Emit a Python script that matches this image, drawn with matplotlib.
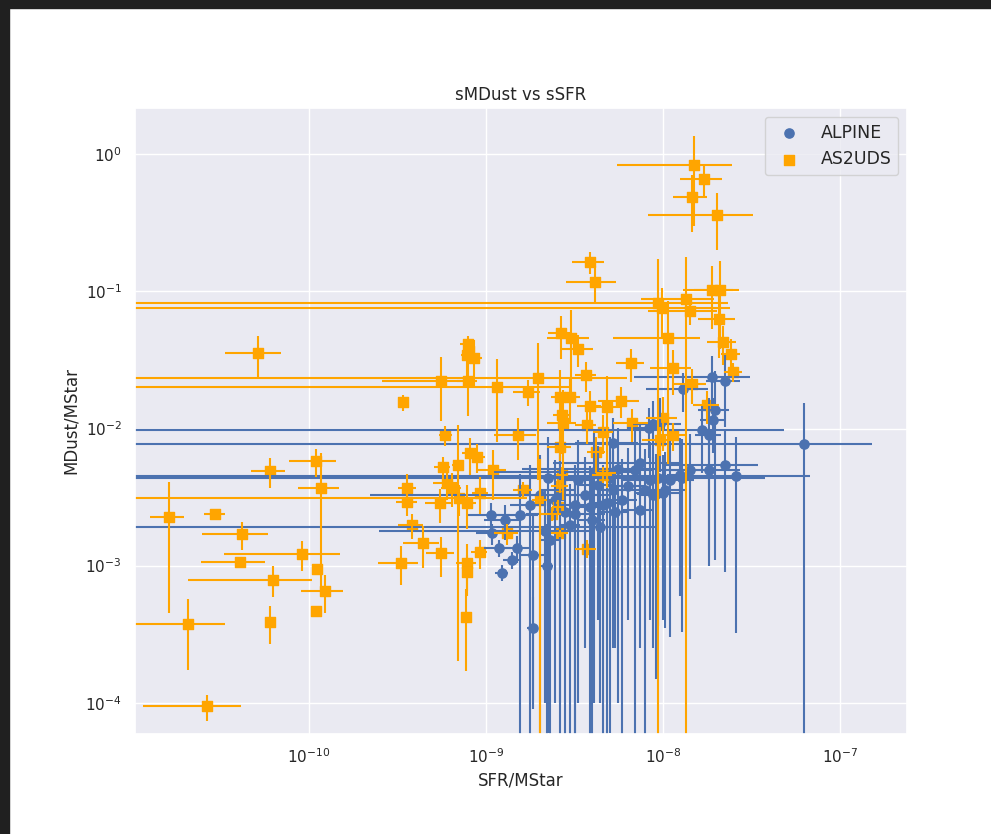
import matplotlib
matplotlib.use("Agg")
import matplotlib.pyplot as plt
from matplotlib.patches import Rectangle
import seaborn as sns

sns.set_theme(style="darkgrid")
plt.rcParams['font.family'] = ['DejaVu Sans']

# ---------------- ALPINE ----------------
alpine_ssfr = [1.23e-9, 1.40e-9, 1.18e-9, 1.08e-9, 1.84e-9, 1.84e-9, 2.20e-9, 2.30e-9, 1.50e-9, 3.0e-9,
               3.87e-9, 5.2e-9, 8.8e-9, 1.25e-8, 6.27e-8, 2.58e-8, 1.82e-8, 1.28e-8, 9.1e-9, 1.3e-8,
               1.89e-8, 2.24e-8, 1.97e-8, 1.93e-8, 1.66e-8, 1.82e-8, 8.3e-9, 4.4e-9, 2.62e-9, 2.15e-9,
               2.24e-9, 2.45e-9, 2.62e-9, 2.8e-9, 3.18e-9, 3.31e-9, 3.63e-9, 3.98e-9, 4.3e-9, 4.58e-9,
               5.0e-9, 5.35e-9, 5.87e-9, 6.34e-9, 6.95e-9, 7.4e-9, 7.9e-9, 8.45e-9, 9.4e-9, 1.03e-8,
               1.1e-8, 1.42e-8, 2.24e-8, 1.07e-9, 1.28e-9, 1.56e-9, 1.77e-9, 2.02e-9, 8.8e-9, 9.6e-9,
               5.2e-9, 4.8e-9, 1.0e-8, 5.6e-9, 4.1e-9, 7.4e-9, 3.18e-9]
alpine_ssfr_err = [1.1e-10, 1.5e-10, 2.0e-10, 2.0e-10, 1.4e-10, 3.0e-10, 2.0e-10, 3.0e-10, 3.0e-10, 4e-10,
                   6e-10, 8e-10, 1.5e-9, 2e-9, 8.9e-8, 4.2e-8, 9e-9, 2.5e-8, 2e-9, 5e-9,
                   1.2e-8, 5e-9, 4e-9, 3e-9, 3.2e-8, 3e-9, 2e-9, 5e-9, 2.4e-9, 1.9e-9,
                   5e-10, 4e-10, 6e-10, 5e-10, 7e-10, 6e-10, 8e-10, 7e-10, 1e-9, 8e-10,
                   1.2e-9, 1e-9, 1.3e-9, 1.5e-9, 2e-9, 1.5e-9, 2e-9, 2.5e-9, 3e-9, 3e-9,
                   4e-9, 5e-9, 1.2e-8, 3e-10, 3e-10, 4e-10, 4e-10, 5e-10, 2e-9, 3e-9,
                   2e-9, 1e-9, 3e-9, 4e-9, 3e-9, 5e-9, 1.5e-9]
alpine_smdust = [8.9e-4, 1.1e-3, 1.35e-3, 1.72e-3, 3.5e-4, 1.19e-3, 1.0e-3, 1.53e-3, 1.35e-3, 1.97e-3,
                 2.66e-3, 3.55e-3, 3.25e-3, 4.6e-3, 7.7e-3, 4.47e-3, 5.0e-3, 4.33e-3, 3.35e-3, 0.0193,
                 0.0236, 0.0222, 0.0136, 0.0116, 9.7e-3, 9.0e-3, 0.0101, 1.9e-3, 3.3e-3, 1.8e-3,
                 4.36e-3, 3.0e-3, 3.55e-3, 2.45e-3, 2.75e-3, 4.2e-3, 3.25e-3, 2.15e-3, 3.9e-3, 2.75e-3,
                 4.36e-3, 2.45e-3, 3.0e-3, 3.8e-3, 5.0e-3, 2.55e-3, 3.55e-3, 4.2e-3, 4.36e-3, 3.55e-3,
                 4.2e-3, 5.0e-3, 5.4e-3, 2.34e-3, 2.15e-3, 2.34e-3, 2.75e-3, 3.25e-3, 0.0108, 0.0108,
                 7.9e-3, 2.85e-3, 3.4e-3, 5.1e-3, 4.8e-3, 5.6e-3, 2.4e-3]
alpine_smdust_err = [1.2e-4, 1.5e-4, 2.0e-4, 3.0e-4, 2.45e-4, 1.1e-3, 1.0e-3, 1.53e-3, 3.0e-4, 1.97e-3,
                     2.66e-3, 3.3e-3, 3.0e-3, 4.0e-3, 7.7e-3, 4.15e-3, 4.0e-3, 4.0e-3, 3.2e-3, 6e-3,
                     0.01, 0.012, 0.0125, 5e-3, 5e-3, 7.7e-3, 4e-3, 1.8e-3, 3.2e-3, 1.7e-3,
                     4.3e-3, 2.9e-3, 3.5e-3, 2.4e-3, 2.7e-3, 4.1e-3, 3.0e-3, 2.1e-3, 3.5e-3, 2.7e-3,
                     4.3e-3, 2.2e-3, 2.95e-3, 3.4e-3, 4.95e-3, 2.3e-3, 3.5e-3, 3.8e-3, 4.0e-3, 3.2e-3,
                     3.9e-3, 4.2e-3, 4.5e-3, 5e-4, 6e-4, 2.3e-3, 2.7e-3, 3.2e-3, 5e-3, 6e-3,
                     4e-3, 2.8e-3, 3.0e-3, 5.0e-3, 4.7e-3, 5.0e-3, 2.35e-3]

# ---------------- AS2UDS ----------------
as2uds_ssfr = [1.5e-8, 1.7e-8, 1.46e-8, 2.02e-8, 3.87e-9, 4.13e-9, 1.89e-8, 2.1e-8, 1.35e-8, 9.4e-9,
               9.9e-9, 1.42e-8, 2.07e-8, 2.18e-8, 2.42e-8, 1.07e-8, 6.6e-9, 1.14e-8, 2.65e-9, 3.02e-9,
               3.31e-9, 3.67e-9, 1.97e-9, 1.15e-9, 1.73e-9, 5.6e-10, 7.9e-10, 3.4e-10, 7.9e-10, 7.8e-10,
               8.55e-10, 8.0e-10, 2.62e-9, 3.0e-9, 3.87e-9, 5.8e-9, 4.83e-9, 2.69e-9, 2.72e-9, 3.7e-9,
               6.7e-9, 1.14e-8, 5.9e-10, 1.51e-9, 2.02e-9, 2.62e-9, 8.1e-10, 8.9e-10, 5.7e-10, 3.6e-10,
               3.6e-10, 1.1e-9, 6.0e-10, 6.4e-10, 9.3e-10, 7.8e-10, 5.5e-10, 3.8e-10, 4.4e-10, 5.6e-10,
               3.3e-10, 7.8e-10, 7.8e-10, 9.2e-10, 7.7e-10, 2.62e-9, 3.7e-9, 1.62e-9, 2.69e-9, 2.62e-9,
               2.55e-9, 2.35e-9, 1.31e-9, 4.58e-9, 6.95e-10, 7.0e-10, 5.15e-11, 1.62e-11, 2.94e-11, 4.18e-11,
               4.07e-11, 9.1e-11, 1.17e-10, 1.1e-10, 6.0e-11, 1.23e-10, 1.1e-10, 6.26e-11, 6.0e-11, 2.07e-11,
               2.65e-11, 1.11e-10, 1.46e-8, 1.77e-8, 1.0e-8, 9.6e-9, 4.6e-9, 4.2e-9, 4.8e-9, 2.5e-8]
as2uds_ssfr_err = [9.5e-9, 4.5e-9, 3.2e-9, 1.2e-8, 8e-10, 1.3e-9, 6e-9, 6e-9, 6e-9, 1.4e-8,
                   1.4e-8, 6e-9, 5e-9, 4e-9, 3e-9, 5.5e-9, 1.2e-9, 3e-9, 4e-10, 8e-10,
                   7e-10, 5e-10, 4.3e-9, 1.83e-9, 3e-10, 3e-10, 1e-10, 2e-11, 8e-11, 6e-11,
                   1e-10, 5e-11, 3e-10, 4e-10, 6e-10, 1.5e-9, 1e-9, 3e-10, 5e-10, 5e-10,
                   1.5e-9, 2e-9, 5e-11, 4e-10, 2e-10, 4e-10, 8e-11, 1e-10, 6e-11, 4e-11,
                   5e-11, 2e-10, 1e-10, 8e-11, 1e-10, 1e-10, 1e-10, 6e-11, 1e-10, 1e-10,
                   8.5e-11, 1e-10, 5e-11, 1e-10, 3e-11, 3e-10, 5e-10, 2e-10, 2e-10, 3e-10,
                   2e-10, 3e-10, 2e-10, 6e-10, 5e-11, 1.0e-9, 1.8e-11, 3.5e-12, 4e-12, 1.7e-11,
                   1.6e-11, 5.8e-11, 3e-11, 3.3e-11, 1.3e-11, 3.3e-11, 5e-12, 4.2e-11, 3.5e-12, 1.3e-11,
                   1.5e-11, 5e-12, 3e-9, 3e-9, 2e-9, 2e-9, 6e-10, 5e-10, 6e-10, 3e-9]
as2uds_smdust = [0.83, 0.66, 0.49, 0.36, 0.163, 0.118, 0.103, 0.103, 0.0875, 0.082,
                 0.076, 0.0715, 0.0625, 0.0425, 0.0348, 0.0455, 0.030, 0.0275, 0.0494, 0.0455,
                 0.038, 0.0244, 0.0232, 0.020, 0.0186, 0.0224, 0.0224, 0.0155, 0.0417, 0.0343,
                 0.0325, 0.037, 0.0169, 0.0169, 0.0147, 0.016, 0.0143, 0.0125, 0.011, 0.0107,
                 0.011, 8.9e-3, 8.9e-3, 8.9e-3, 3.0e-3, 7.3e-3, 6.6e-3, 6.2e-3, 5.2e-3, 3.66e-3,
                 2.9e-3, 5.0e-3, 4.0e-3, 3.7e-3, 3.4e-3, 2.85e-3, 2.85e-3, 1.97e-3, 1.46e-3, 1.23e-3,
                 1.05e-3, 1.05e-3, 9e-4, 1.25e-3, 4.2e-4, 1.72e-3, 1.33e-3, 3.55e-3, 4.6e-3, 3.8e-3,
                 2.7e-3, 2.4e-3, 1.72e-3, 4.6e-3, 5.4e-3, 3.1e-3, 0.0353, 2.25e-3, 2.4e-3, 1.69e-3,
                 1.07e-3, 1.21e-3, 3.66e-3, 5.75e-3, 4.87e-3, 6.5e-4, 4.7e-4, 7.9e-4, 3.86e-4, 3.73e-4,
                 9.4e-5, 9.5e-4, 0.021, 0.0148, 0.0119, 8.3e-3, 9.5e-3, 6.7e-3, 4.7e-3, 0.026]
as2uds_smdust_err = [0.53, 0.17, 0.22, 0.16, 0.03, 0.035, 0.05, 0.065, 0.09, 0.09,
                     0.03, 0.015, 0.03, 0.0135, 0.01, 0.04, 0.008, 0.01, 0.017, 0.028,
                     0.01, 0.006, 0.019, 0.012, 0.004, 0.011, 0.01, 0.002, 0.006, 0.01,
                     0.012, 0.005, 0.01, 0.006, 0.004, 0.004, 0.01, 0.006, 0.008, 0.003,
                     0.003, 2e-3, 1.5e-3, 3e-3, 3.0e-3, 1.5e-3, 2e-3, 1.5e-3, 1e-3, 1e-3,
                     6e-4, 2e-3, 1e-3, 1e-3, 1e-3, 1e-3, 8e-4, 4e-4, 5e-4, 4e-4,
                     3.3e-4, 4e-4, 3e-4, 3e-4, 2.5e-4, 1e-4, 2e-4, 5e-4, 6e-4, 4e-4,
                     3e-4, 3e-4, 3e-4, 6e-4, 5.2e-3, 8e-4, 0.012, 1.8e-3, 2e-4, 3.8e-4,
                     5e-5, 3e-4, 3e-3, 1.3e-3, 1.2e-3, 2e-4, 3e-5, 2e-4, 1.2e-4, 2e-4,
                     2e-5, 5e-5, 0.006, 0.004, 0.005, 0.002, 0.003, 0.002, 0.001, 0.004]

x_ticks = [1e-10, 1e-9, 1e-8, 1e-7]
y_ticks = [1e-4, 1e-3, 1e-2, 1e-1, 1e0]

BLUE = '#4c72b0'
ORANGE = '#ffa500'

fig = plt.figure(figsize=(9.91, 8.34), dpi=100)
fig.patch.set_facecolor('white')
ax = fig.add_axes([135 / 991, 100 / 834, 772 / 991, 626 / 834])

# markers (scatter, drawn beneath the error bars)
ax.scatter(alpine_ssfr, alpine_smdust, marker='o', s=44, color=BLUE, label='ALPINE', zorder=1)
ax.scatter(as2uds_ssfr, as2uds_smdust, marker='s', s=52, color=ORANGE, label='AS2UDS', zorder=1)
# error bars
ax.errorbar(alpine_ssfr, alpine_smdust, xerr=alpine_ssfr_err, yerr=alpine_smdust_err,
            fmt='none', ecolor=BLUE, elinewidth=1.5, zorder=2)
ax.errorbar(as2uds_ssfr, as2uds_smdust, xerr=as2uds_ssfr_err, yerr=as2uds_smdust_err,
            fmt='none', ecolor=ORANGE, elinewidth=1.5, zorder=2)

ax.set_xscale('log')
ax.set_yscale('log')
ax.set_xticks(x_ticks)
ax.set_yticks(y_ticks)
ax.minorticks_off()
ax.set_xlim(10 ** -10.983, 10 ** -6.621)
ax.set_ylim(10 ** -4.228, 10 ** 0.338)

ax.set_title('sMDust vs sSFR', fontsize=12)
ax.set_xlabel('SFR/MStar', fontsize=12)
ax.set_ylabel('MDust/MStar', fontsize=12)
ax.tick_params(labelsize=11)

ax.legend(loc='upper right', fontsize=12.5)

# screenshot frame (dark bands top and left)
fig.add_artist(Rectangle((0, 1 - 8 / 834), 1, 8 / 834, transform=fig.transFigure,
                         color='#202020', zorder=10))
fig.add_artist(Rectangle((0, 0), 9 / 991, 1, transform=fig.transFigure,
                         color='#202020', zorder=10))

fig.savefig('out.png', dpi=100)
